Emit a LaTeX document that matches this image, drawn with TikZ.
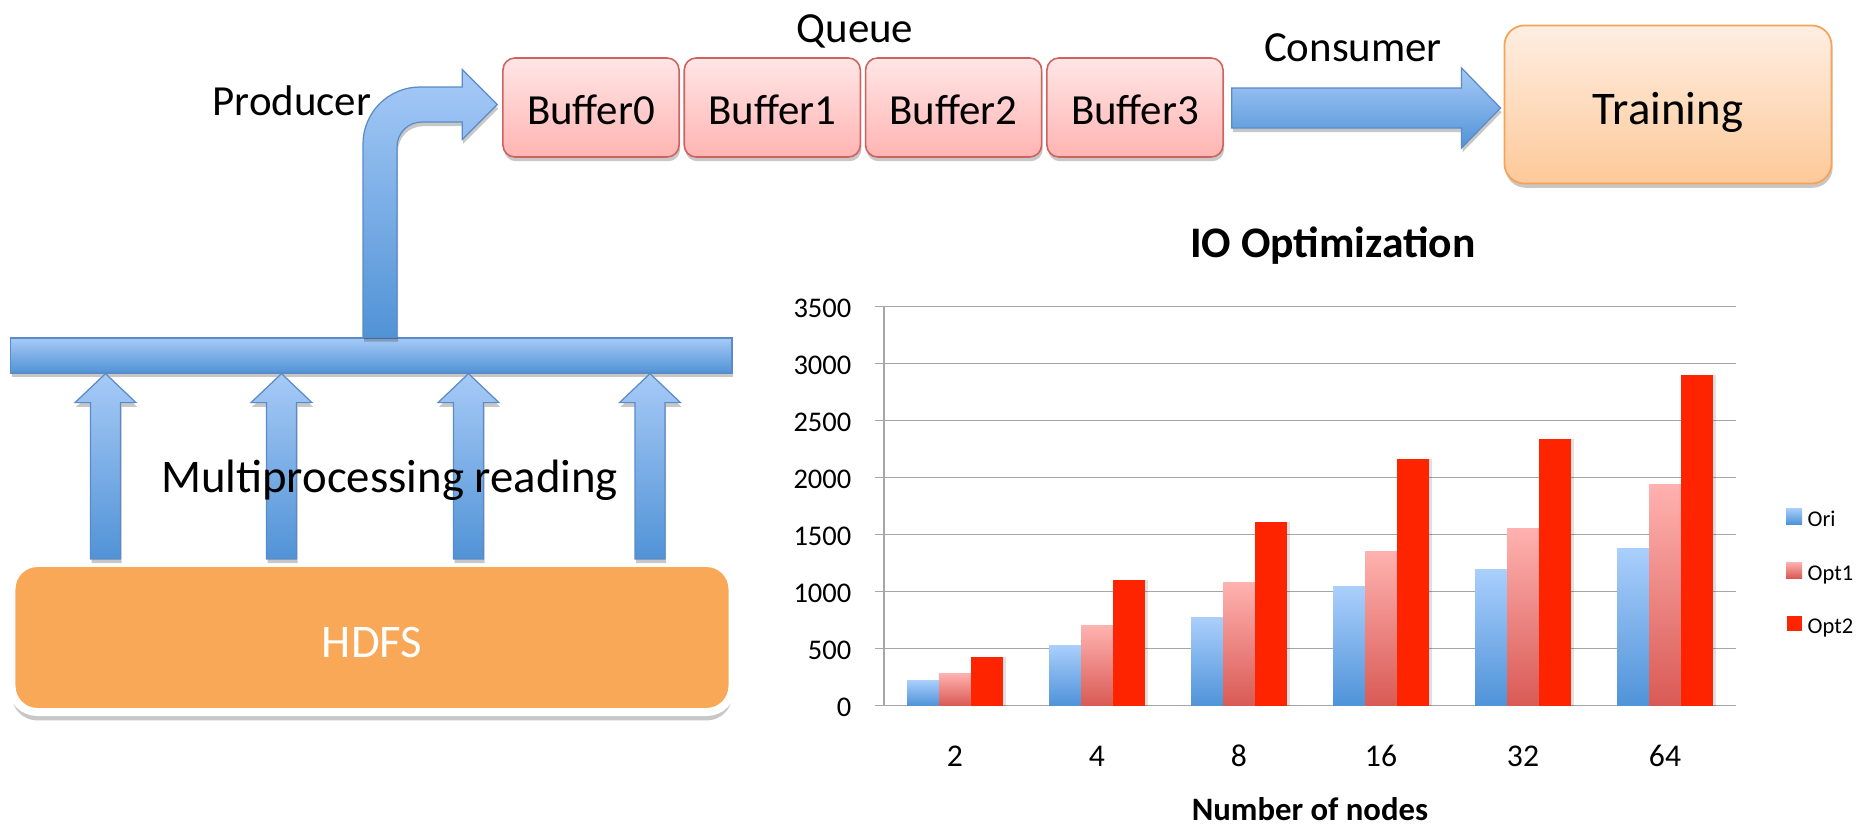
\documentclass[tikz,border=0pt]{standalone}
\usepackage{fontspec}
\setmainfont{Carlito}
\usetikzlibrary{calc,shadows}

\definecolor{arrowlight}{HTML}{A6CAF7}
\definecolor{arrowdark}{HTML}{5193D6}
\definecolor{arrowline}{HTML}{5A8BC8}
\definecolor{buflight}{HTML}{FFE6E6}
\definecolor{bufdark}{HTML}{FFB4B2}
\definecolor{bufline}{HTML}{D0625E}
\definecolor{trainlight}{HTML}{FEEEE2}
\definecolor{traindark}{HTML}{FDC999}
\definecolor{trainline}{HTML}{F5A358}
\definecolor{hdfsorange}{HTML}{F9A857}
\definecolor{gridgray}{HTML}{A6A6A6}
\definecolor{orilight}{HTML}{AACFFC}
\definecolor{oridark}{HTML}{4F93D9}
\definecolor{optonelight}{HTML}{FFB2B0}
\definecolor{optonedark}{HTML}{D95A55}
\definecolor{opttwored}{HTML}{FF2400}

\begin{document}
\begin{tikzpicture}[x=0.01cm,y=-0.01cm,
  softshadow/.style={drop shadow={shadow xshift=0.3pt,shadow yshift=-1.2pt,opacity=0.22,fill=black}},
  bufbox/.style={draw=bufline,line width=0.45pt,top color=buflight,bottom color=bufdark,
    rounded corners=0.12cm,minimum width=1.76cm,minimum height=0.99cm,inner sep=0pt,
    font=\fontsize{12.2}{14}\selectfont,text height=9.9pt,text depth=0pt,softshadow},
  trainbox/.style={draw=trainline,line width=0.5pt,top color=trainlight,bottom color=traindark,
    rounded corners=0.2cm,minimum width=3.27cm,minimum height=1.58cm,inner sep=0pt,
    font=\fontsize{13.3}{15}\selectfont,text height=11.4pt,text depth=0pt,softshadow},
  hdfsbox/.style={draw=white,line width=0.08cm,fill=hdfsorange,text=white,
    rounded corners=0.26cm,minimum width=7.206cm,minimum height=1.49cm,inner sep=0pt,
    font=\fontsize{13.3}{15}\selectfont,text height=11.4pt,text depth=0pt,
    drop shadow={shadow xshift=0pt,shadow yshift=-2.4pt,opacity=0.22,fill=black}},
  barbox/.style={draw=arrowline,line width=0.35pt,top color=arrowlight,bottom color=arrowdark,
    minimum width=7.21cm,minimum height=0.35cm,inner sep=0pt,softshadow},
  blockarrow/.style={draw=arrowline,line width=0.35pt,top color=arrowlight,bottom color=arrowdark,softshadow},
  lbl/.style={inner sep=0pt,font=\fontsize{12.2}{14}\selectfont},
  biglbl/.style={inner sep=0pt,font=\fontsize{13.3}{15}\selectfont},
  charttitle/.style={inner sep=0pt,font=\fontsize{12.4}{14}\selectfont\bfseries},
  axtitle/.style={inner sep=0pt,font=\fontsize{9.3}{11}\selectfont\bfseries},
  ylab/.style={inner sep=0pt,anchor=east,font=\fontsize{8.1}{10}\selectfont},
  xlab/.style={inner sep=0pt,anchor=base,font=\fontsize{9}{11}\selectfont},
  legtext/.style={inner sep=0pt,anchor=base west,font=\fontsize{6.4}{8}\selectfont},
  gridline/.style={draw=gridgray,line width=0.55pt},
  oribar/.style={top color=orilight,bottom color=oridark},
  optonebar/.style={top color=optonelight,bottom color=optonedark},
  opttwobar/.style={fill=opttwored},
  barshadow/.style={drop shadow={shadow xshift=0.8pt,shadow yshift=0pt,opacity=0.12,fill=black}}
]
\useasboundingbox (0,0) rectangle (1862,824);

% ---------- storage, collector bar and readers ----------
\node[hdfsbox] (hdfs) at (372,637.5) {HDFS};
\node[barbox] (bar) at (371.4,355.5) {};

% queue of buffers and the training stage
\node[bufbox] (b0) at (591,107.5) {Buffer0};
\node[bufbox] (b1) at (772.3,107.5) {Buffer1};
\node[bufbox] (b2) at (953.6,107.5) {Buffer2};
\node[bufbox] (b3) at (1135,107.5) {Buffer3};
\node[trainbox] (train) at (1668,104.5) {Training};

% four reading processes: HDFS -> bar
\foreach \ax [count=\n] in {105.5,281.5,468.5,650}{
  \coordinate (ub\n) at (\ax,0 |- hdfs.north);
  \coordinate (ut\n) at (\ax,0 |- bar.south);
  \path[blockarrow] ($(ub\n)+(-15,0)$) -- ($(ut\n)+(-15,29)$) -- ($(ut\n)+(-30.5,29)$)
    -- (ut\n) -- ($(ut\n)+(30.5,29)$) -- ($(ut\n)+(15,29)$) -- ($(ub\n)+(15,0)$) -- cycle;
}

% producer: bent arrow from the bar up into Buffer0
\coordinate (pb) at (380,0 |- bar.north);
\coordinate (pt) at ($(b0.west)+(-5,-3)$);
\coordinate (pk) at (pb |- pt);
\path[blockarrow] ($(pb)+(-17,0)$) -- ($(pk)+(-17,39.5)$)
  .. controls ($(pk)+(-17,8)$) and ($(pk)+(8.5,-17.5)$) .. ($(pk)+(40,-17.5)$)
  -- ($(pt)+(-35,-17.5)$) -- ($(pt)+(-35,-35)$) -- (pt) -- ($(pt)+(-35,35)$)
  -- ($(pt)+(-35,17.5)$) -- ($(pk)+(42,17.5)$)
  .. controls ($(pk)+(28,17.5)$) and ($(pk)+(17,28.5)$) .. ($(pk)+(17,42.5)$)
  -- ($(pb)+(17,0)$) -- cycle;

% consumer: Buffer3 -> Training
\coordinate (cs) at ($(b3.east)+(8,0.5)$);
\coordinate (ce) at ($(train.west)+(-3,3.5)$);
\path[blockarrow] ($(cs)+(0,-20)$) -- ($(ce)+(-39,-20)$) -- ($(ce)+(-39,-40)$) -- (ce)
  -- ($(ce)+(-39,40)$) -- ($(ce)+(-39,20)$) -- ($(cs)+(0,20)$) -- cycle;

% labels
\node[lbl,anchor=base] (queue) at (855,43) {Queue};
\node[lbl,anchor=base] (producer) at (292,116) {Producer};
\node[lbl,anchor=base] (consumer) at (1353,61) {Consumer};
\node[biglbl,anchor=base] (multi) at (389.5,492) {Multiprocessing reading};

% ---------- bar chart ----------
\node[charttitle,anchor=base] (title) at (1333,258) {IO Optimization};
\foreach \k in {0,...,7}{
  \pgfmathsetmacro\gy{705.5-57*\k}
  \pgfmathtruncatemacro\tv{500*\k}
  \draw[gridline] (875,\gy) -- (1736,\gy);
  \node[ylab] (ylab\k) at (852,\gy+1.5) {\tv};
}
\draw[gridline] (884,306.5) -- (884,705.5);

\foreach \i/\lab/\va/\vb/\vc in {0/2/223/283/428,1/4/530/697/1100,2/8/770/1076/1605,
                                 3/16/1041/1354/2158,4/32/1196/1553/2333,5/64/1378/1941/2897}{
  \pgfmathsetmacro\gx{884+142*\i}
  \path[oribar,barshadow] (\gx+23,705.5) rectangle (\gx+55,705.5-0.11409*\va);
  \path[optonebar,barshadow] (\gx+55,705.5) rectangle (\gx+87,705.5-0.11409*\vb);
  \path[opttwobar,barshadow] (\gx+87,705.5) rectangle (\gx+119,705.5-0.11409*\vc);
  \node[xlab] (xlab\i) at (\gx+71,766.7) {\lab};
}
\node[axtitle,anchor=base] (xtitle) at (1310,820) {Number of nodes};

% legend
\path[oribar] (1786,508) rectangle (1802,524);
\node[legtext] (legori) at (1807,526.5) {Ori};
\path[optonebar] (1786,562) rectangle (1802,578);
\node[legtext] (legoptone) at (1807,580) {Opt1};
\path[opttwobar] (1787,616) rectangle (1802,631);
\node[legtext] (legopttwo) at (1807,633) {Opt2};
\end{tikzpicture}
\end{document}
